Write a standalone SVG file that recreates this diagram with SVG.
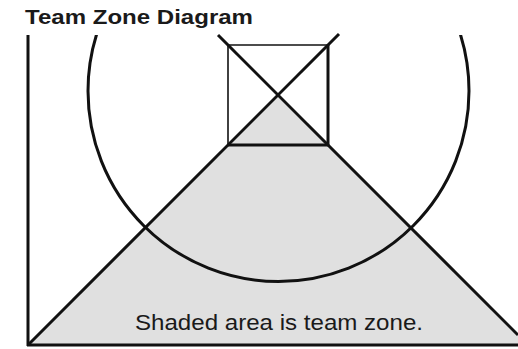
<svg xmlns="http://www.w3.org/2000/svg" width="518" height="349" viewBox="0 0 518 349">
  <style>
    .title { font-family: "Liberation Sans", Arial, sans-serif; font-weight: bold; font-size: 21px; fill: #1a1a1a; }
    .label { font-family: "Liberation Sans", Arial, sans-serif; font-size: 22px; fill: #1a1a1a; }
    .thick { stroke: #111; stroke-width: 3; fill: none; }
    .thin { stroke: #111; stroke-width: 1.6; fill: none; }
  </style>
  <defs>
    <clipPath id="clipTop"><rect x="0" y="35" width="518" height="314"/></clipPath>
  </defs>
  <rect width="518" height="349" fill="#ffffff"/>
  <text class="title" x="25" y="24" textLength="228" lengthAdjust="spacingAndGlyphs">Team Zone Diagram</text>
  <g id="zone">
    <polygon points="278,95 28,345 518,345 518,335" fill="#e0e0e0"/>
  </g>
  <g id="circle" clip-path="url(#clipTop)">
    <circle class="thick" cx="278.5" cy="91" r="190.5"/>
  </g>
  <g id="square">
    <line class="thin" x1="228" y1="45" x2="328" y2="45"/>
    <line class="thin" x1="228" y1="45" x2="228" y2="145"/>
    <line class="thick" x1="328" y1="45" x2="328" y2="146"/>
    <line class="thick" x1="228" y1="145" x2="328" y2="145"/>
  </g>
  <g id="connectors">
    <line class="thick" x1="28" y1="35" x2="28" y2="346"/>
    <line class="thick" x1="27" y1="345" x2="518" y2="345"/>
    <line class="thick" x1="28" y1="345" x2="339" y2="34"/>
    <line class="thick" x1="218" y1="35" x2="518" y2="335"/>
  </g>
  <text class="label" x="135" y="330" textLength="288" lengthAdjust="spacingAndGlyphs">Shaded area is team zone.</text>
</svg>
